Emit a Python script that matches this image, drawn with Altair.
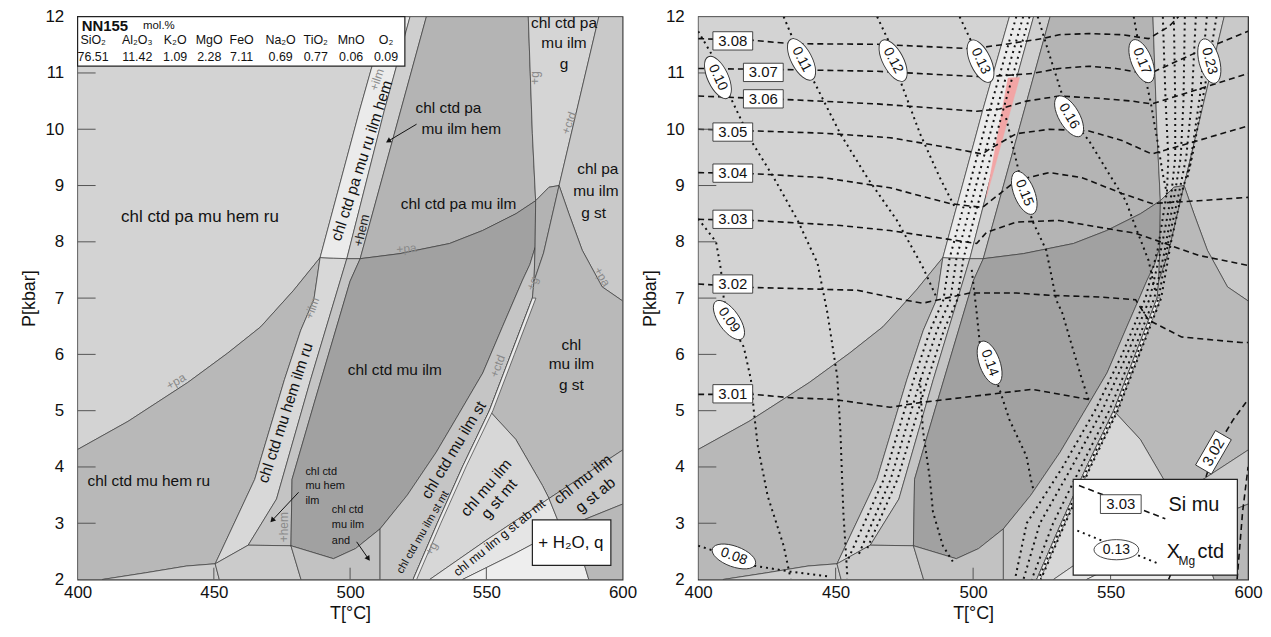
import altair as alt
import pandas as pd

FONT = "Liberation Sans"

T_TICKS = [400, 450, 500, 550, 600]
P_TICKS = [2, 3, 4, 5, 6, 7, 8, 9, 10, 11, 12]

# ---------------- phase boundaries (T °C, P kbar) ----------------
PA_LEFT = [(400, 4.31), (418.5, 4.81), (440.4, 5.5), (455, 6.02), (467.2, 6.49), (479.3, 7.14), (489, 7.72)]
PA_BAND = [(489, 7.72), (494, 7.71), (498.8, 7.70), (503.7, 7.70)]
PA_DARK = [(503.7, 7.70), (518.3, 7.79), (536.5, 7.97), (548.6, 8.2), (560.9, 8.5), (568.1, 8.73)]
PA_G = [(568.1, 8.73), (573, 8.97), (576.7, 9.0)]
PA_RIGHT = [(576.7, 9.0), (580.3, 8.5), (585.2, 7.85), (592.5, 7.2), (600, 6.95)]
BAND_L_LO = [(450.5, 2.28), (465, 3.78), (475.9, 5.55), (481.9, 6.43), (486.7, 6.97), (489, 7.72)]
BAND_L_HI = [(489, 7.72), (503.4, 10.32), (513.2, 12)]
BAND_R_LO = [(462.6, 2.61), (473, 3.43), (485.5, 5.55), (498.8, 7.70)]
BAND_R_HI = [(498.8, 7.70), (512.5, 10.32), (522, 12)]
THIRD_LO = [(482, 2.0), (478.3, 2.6), (478.7, 3.78), (486.8, 5.13), (500, 7.3), (503.7, 7.70)]
THIRD_HI = [(503.7, 7.70), (515, 9.7), (528, 12)]
G_HI = [(565.4, 12), (566.9, 9.92), (568.1, 8.73)]
G_MID = [(568.1, 8.73), (567.9, 7.9), (567.5, 7.3), (566.9, 7.0)]
G_LO = [(566.9, 7.0), (559, 6.0), (551.1, 5.0), (541.4, 4.02), (532, 3.0), (523.1, 2.0)]
CTD_LO = [(576.7, 9.0), (571, 7.8), (567.5, 7.3)]
D_LINE = [(567.9, 7.9), (566, 7.6), (563.3, 7.32), (556, 6.5), (548.7, 5.67), (540, 4.95),
          (531.6, 4.26), (521, 3.5), (511, 2.9), (502, 2.55), (493.9, 2.37)]
ARC_UP = [(551.1, 5.0), (560.8, 4.49), (570.6, 3.67), (573, 3.44)]
ARC_LO = [(573, 3.44), (577.5, 2.9), (585, 2.42), (587.6, 2.0)]
X_LO = [(529.2, 2.0), (550, 2.7), (573, 3.44)]
Y_LO = [(541.2, 2.0), (560, 2.45), (577.5, 2.9)]
BOT_LEFT = [(409, 2.0), (425, 2.12), (440, 2.24), (450.5, 2.28)]


def rev(a):
    return list(a)[::-1]


POLYS = [
    ("R1", "#d3d3d3", [(400, 12)] + rev(BAND_L_HI) + rev(PA_LEFT)[1:]),
    ("R2", "#b8b8b8", PA_LEFT + rev(BAND_L_LO)[1:] + rev(BOT_LEFT)[1:] + [(400, 2)]),
    ("SLIVER", "#cdcdcd", BOT_LEFT + [(452, 2.0)]),
    ("BAND_LO", "#d8d8d8", BAND_L_LO + PA_BAND[1:3] + rev(BAND_R_LO)[1:]),
    ("BAND_UP", "#ebebeb", BAND_L_HI + rev(BAND_R_HI) + [(494, 7.71)]),
    ("THIN_UP", "#cfcfcf", BAND_R_HI + rev(THIRD_HI)),
    ("HEM_LO", "#c4c4c4", BAND_R_LO + rev(THIRD_LO)[:-1]),
    ("S1", "#cbcbcb", [(450.5, 2.28), (462.6, 2.61), (478.3, 2.6), (482, 2.0), (452, 2.0)]),
    ("R5", "#b4b4b4", [(528, 12)] + G_HI + rev(PA_DARK)[1:] + THIRD_HI[1:-1]),
    ("DARK", "#a1a1a1", THIRD_LO[1:] + PA_DARK[1:] + [G_MID[1]] + D_LINE[1:]),
    ("S2", "#c2c2c2", [(478.3, 2.6), (493.9, 2.37), (502, 2.55), (511, 2.9), (511, 2.0), (482, 2.0)]),
    ("ST", "#c5c5c5", D_LINE[:9] + [(511, 2.0)] + rev(G_LO) + [(567.5, 7.3)]),
    ("G_UP", "#d5d5d5", [(565.4, 12), (591.3, 12), (576.7, 9.0), (573, 8.97), (568.1, 8.73), (566.9, 9.92)]),
    ("TRI", "#b3b3b3", PA_G + CTD_LO[1:] + [(567.9, 7.9)]),
    ("PA_G_ST", "#c9c9c9", [(591.3, 12), (600, 12)] + rev(PA_RIGHT)),
    ("MU_G_ST", "#b9b9b9", PA_RIGHT + [(600, 4.3)] + rev(ARC_UP) + rev(G_LO)[4:] + [(567.5, 7.3), (571, 7.8)]),
    ("ST_MT", "#d7d7d7", rev(G_LO)[:4] + ARC_UP[1:] + rev(X_LO)[1:]),
    ("AB_MT", "#e5e5e5", X_LO + [ARC_LO[1]] + rev(Y_LO)[1:]),
    ("BELOW_L", "#eeeeee", Y_LO + ARC_LO[2:]),
    ("AB_R", "#cacaca", [(573, 3.44), (600, 4.3), (600, 3.34), (577.5, 2.9)]),
    ("BELOW_R", "#b8b8b8", [(577.5, 2.9), (600, 3.34), (600, 2.0), (587.6, 2.0), (585, 2.42)]),
    ("MT_BAND", "#ececec", G_LO + [(524.4, 2.0), (533.3, 3.0), (542.7, 4.02), (552.4, 5.0), (560.3, 6.0), (568.2, 7.0)]),
]
PINK = [(512.7, 10.91), (516.9, 10.92), (504.8, 8.79)]

# ---------------- isopleths (right panel) ----------------
SI_LINES = {
    "3.08": [(400, 11.61), (419.9, 11.58), (433.6, 11.52), (465.1, 11.51), (499.8, 11.43), (513.2, 11.52), (525.2, 11.61),
             (531.3, 11.68), (542.1, 11.70), (554.1, 11.68), (563.8, 11.61), (571.1, 11.82), (574.7, 12.0)],
    "3.07": [(400, 11.08), (431.1, 11.06), (465.1, 11.03), (499.8, 10.94), (507.1, 10.94), (521.5, 10.99), (531.3, 11.08),
             (542.1, 11.12), (551.9, 11.08), (563.8, 10.98), (581.9, 11.38), (600, 11.74)],
    "3.06": [(400, 10.59), (431.1, 10.53), (465.1, 10.45), (501.3, 10.32), (509.6, 10.36), (519.4, 10.5), (531.3, 10.59),
             (545.8, 10.55), (557.7, 10.5), (565, 10.45), (581.9, 10.71), (600, 10.99)],
    "3.05": [(400, 10.0), (420.3, 9.97), (445.6, 9.93), (469.8, 9.85), (491.5, 9.67), (503.4, 9.56), (506, 9.65),
             (515.7, 9.92), (527.7, 10.0), (542.1, 9.97), (554.1, 9.8), (565, 9.56), (581.9, 9.8), (600, 10.06)],
    "3.04": [(400, 9.23), (420.3, 9.21), (445.6, 9.14), (469.8, 8.96), (491.5, 8.68), (503.4, 8.61), (515.7, 9.09),
             (527.7, 9.23), (539.6, 9.14), (554.1, 8.86), (565, 8.68), (581.9, 8.73), (600, 8.79)],
    "3.03": [(400, 8.4), (420.3, 8.38), (451.7, 8.29), (469.8, 8.2), (489, 8.06), (501.3, 7.97), (504.9, 8.17),
             (515.7, 8.35), (531.3, 8.38), (545.8, 8.26), (559.1, 8.15), (566.4, 8.03), (581.9, 7.76), (600, 7.58)],
    "3.02": [(400, 7.25), (419.2, 7.19), (457.9, 7.14), (474.5, 6.97), (481.7, 6.91), (498.7, 7.09), (515.7, 7.09),
             (527.7, 7.05), (545.8, 7.02), (559.1, 6.97), (563.8, 6.61), (575.8, 6.31), (597.5, 6.21), (600, 6.21)],
    "3.01": [(400, 5.29), (420.3, 5.29), (433.6, 5.23), (449.2, 5.2), (469.8, 5.06), (481.7, 5.15), (506, 5.29),
             (521.5, 5.38), (538.5, 5.23), (542.1, 5.2)],
    "3.02b": [(571.1, 2.0), (580.1, 3.08), (587.4, 4.26), (594.6, 4.84), (600, 5.2)],
    "3.02c": [(596, 2.0), (598, 3.2), (600, 4.0)],
}
SI_LABELS = [("3.08", 412.6, 11.57, 0), ("3.07", 423.7, 11.01, 0), ("3.06", 423.7, 10.54, 0),
             ("3.05", 412.6, 9.95, 0), ("3.04", 412.6, 9.22, 0), ("3.03", 412.6, 8.40, 0),
             ("3.02", 412.6, 7.25, 0), ("3.01", 412.6, 5.30, 0), ("3.02", 587.4, 4.26, 300)]

XMG_LINES = {
    "0.08": [(400, 2.6), (405.8, 2.51), (413, 2.41), (419.9, 2.25), (433.6, 2.14), (448.1, 2.05)],
    "0.09": [(400, 8.41), (406.5, 8.0), (408.3, 7.5), (409.3, 7.0), (411.2, 6.61), (416.6, 6.13), (419.2, 5.55),
             (420.3, 4.97), (421.7, 4.37), (425.3, 3.48), (431.1, 2.6), (433.6, 2.02)],
    "0.10": [(400, 11.74), (405.4, 11.29), (407.2, 10.92), (411.9, 10.55), (419.2, 9.8), (427.5, 9.14), (436.2, 8.38),
             (443.4, 7.62), (447, 6.74), (450.6, 5.6), (451.7, 4.67), (452.8, 3.2), (454.3, 2.02)],
    "0.11": [(431.1, 12), (437.6, 11.24), (442, 10.86), (451.7, 9.92), (461.5, 9.14), (472.3, 8.38), (481.7, 7.55), (486.8, 7.0)],
    "0.12": [(465.1, 12), (469.8, 11.51), (470.9, 11.22), (474.5, 10.73), (480.7, 9.92), (487.9, 9.14), (493.5, 8.6)],
    "0.13": [(495.1, 12), (502.7, 11.21), (506.5, 10.86)],
    "d1": [(515.7, 12), (505.9, 10.32), (491.5, 7.72), (489.2, 6.97), (484.4, 6.43), (478.4, 5.55), (467.5, 3.78), (454, 2.3)],
    "d2": [(518.2, 12), (508.4, 10.32), (494, 7.72), (491.7, 6.97), (486.9, 6.43), (480.9, 5.55), (470, 3.78), (458, 2.4)],
    "d3": [(520.5, 12), (510.8, 10.32), (496.5, 7.71), (494.2, 6.97), (489.4, 6.43), (483.4, 5.55), (472.5, 3.78), (461, 2.5)],
    "hem": [(480.7, 5.55), (481.7, 4.67), (484.3, 3.78), (485.4, 3.2), (489, 2.6), (492.6, 2.32)],
    "0.14": [(499.5, 7.5), (501.3, 6.74), (502.4, 6.21), (506, 5.85), (509.6, 5.38), (513.2, 4.84), (519.4, 4.19),
             (521.5, 3.66), (522.5, 3.57)],
    "0.15": [(512, 10.2), (515.7, 9.44), (516.8, 9.21), (518.6, 8.87), (521.5, 8.38), (526.6, 7.85), (528.8, 7.32),
             (530.2, 6.97), (532.4, 6.74), (539.6, 5.55), (542, 5.2)],
    "0.16": [(523.5, 12), (527.7, 11.33), (534.9, 10.23), (542.1, 9.8), (549.4, 9.21), (555.5, 8.73), (559.1, 8.26),
             (563.8, 7.67), (566.4, 7.09)],
    "0.17": [(558.4, 12), (561.3, 11.21), (564.5, 10.5), (567, 9.8), (569, 9.2), (570.5, 8.85)],
    "0.23": [(588.5, 12), (585.9, 11.21), (583, 10.4), (580, 9.6), (578, 9.15)],
    "b1": [(569, 12), (570, 10.5), (571, 9.5), (570.5, 8.9), (567.3, 7.9), (562.7, 7.0), (554.2, 6.0), (544.3, 5.0),
           (532.6, 4.0), (519.5, 3.0), (515.2, 2.0)],
    "b2": [(573, 12), (573.5, 10.5), (573.5, 9.5), (572, 8.8), (568.5, 7.9), (564.3, 7.0), (556, 6.0), (546.9, 5.0),
           (535.9, 4.0), (524.3, 3.0), (518.3, 2.0)],
    "b3": [(577, 12), (576.5, 10.5), (575.5, 9.5), (573.5, 8.9), (569.5, 7.8), (565.9, 7.0), (557.9, 6.0), (549.5, 5.0),
           (539.2, 4.0), (529.1, 3.0), (521.3, 2.0)],
    "b4": [(581, 12), (579.5, 10.5), (577.5, 9.5), (575, 8.9), (571, 8.0), (567.5, 7.0), (559.6, 6.0), (551.7, 5.0),
           (541.8, 4.0), (532.6, 3.0), (523.7, 2.0)],
    "b5": [(585, 12), (582.5, 10.6), (579, 9.4), (576, 8.9), (572, 8.0), (568.4, 7.0), (560.5, 6.0), (552.6, 5.0),
           (542.7, 4.0), (533.5, 3.0), (524.6, 2.0)],
}
XMG_LABELS = [("0.10", 407.2, 10.92, 65), ("0.11", 437.6, 11.24, 62), ("0.12", 470.9, 11.22, 62),
              ("0.13", 502.7, 11.21, 65), ("0.17", 561.3, 11.21, 68), ("0.23", 585.9, 11.21, 75),
              ("0.16", 534.9, 10.23, 60), ("0.15", 518.6, 8.87, 68), ("0.14", 506.0, 5.85, 70),
              ("0.09", 411.2, 6.61, 55), ("0.08", 413.0, 2.41, 20)]

# ---------------- left panel annotations ----------------
REGION_LABELS = [
    ("chl ctd pa mu hem ru", 444.9, 8.44, 17, 0, "#111"),
    ("chl ctd mu hem ru", 426.1, 3.75, 15.5, 0, "#111"),
    ("chl ctd pa mu ilm", 539.8, 8.68, 15.5, 0, "#111"),
    ("chl ctd pa", 536.1, 10.38, 15.5, 0, "#111"),
    ("mu ilm hem", 540.8, 10.0, 15.5, 0, "#111"),
    ("chl ctd pa mu ru ilm hem", 504.3, 9.44, 15.5, 288, "#111"),
    ("chl ctd mu hem ilm ru", 476.3, 4.96, 15.5, 288, "#111"),
    ("chl ctd mu ilm", 516.4, 5.73, 15.5, 0, "#111"),
    ("chl ctd mu ilm st", 538.0, 4.30, 15.5, 301, "#111"),
    ("chl ctd mu ilm st mt", 526.8, 2.84, 11, 300, "#111"),
    ("chl mu ilm", 549.9, 3.63, 15.5, 310, "#111"),
    ("g st mt", 554.7, 3.43, 15.5, 310, "#111"),
    ("chl mu ilm g st ab mt", 554.8, 2.74, 12.5, 321, "#111"),
    ("chl mu ilm", 585.4, 3.78, 15.5, 321, "#111"),
    ("g st ab", 590.0, 3.50, 15.5, 321, "#111"),
    ("chl ctd pa", 578.5, 11.88, 15.5, 0, "#111"),
    ("mu ilm", 578.5, 11.53, 15.5, 0, "#111"),
    ("g", 578.5, 11.15, 15.5, 0, "#111"),
    ("chl pa", 590.9, 9.30, 15.5, 0, "#111"),
    ("mu ilm", 590.2, 8.91, 15.5, 0, "#111"),
    ("g st", 589.4, 8.52, 15.5, 0, "#111"),
    ("chl", 581.2, 6.17, 15.5, 0, "#111"),
    ("mu ilm", 581.2, 5.82, 15.5, 0, "#111"),
    ("g st", 581.2, 5.46, 15.5, 0, "#111"),
    ("+ H₂O, q", 581.0, 2.65, 17, 0, "#111"),
    ("+ilm", 509.8, 10.88, 12, 288, "#8a8a8a"),
    ("+hem", 504.3, 8.20, 13, 283, "#222"),
    ("+pa", 520.7, 7.88, 12, 355, "#8a8a8a"),
    ("+pa", 436.1, 5.52, 12, 330, "#8a8a8a"),
    ("+ilm", 486.0, 6.82, 12, 290, "#8a8a8a"),
    ("+g", 567.9, 10.91, 12, 270, "#8a8a8a"),
    ("+ctd", 580.3, 10.11, 12, 290, "#8a8a8a"),
    ("+pa", 592.5, 7.38, 12, 60, "#8a8a8a"),
    ("+g", 566.9, 7.26, 12, 290, "#8a8a8a"),
    ("+g", 529.8, 2.55, 12, 300, "#8a8a8a"),
    ("+hem", 475.7, 2.93, 12, 270, "#8a8a8a"),
    ("+ctd", 554.1, 5.79, 12, 290, "#8a8a8a"),
]
SMALL_LABELS = [("chl ctd", 483.6, 3.91), ("mu hem", 483.6, 3.66), ("ilm", 483.6, 3.40),
                ("chl ctd", 493.3, 3.24), ("mu ilm", 493.3, 2.96), ("and", 493.3, 2.68)]
ARROWS = [[(524.4, 10.09), (514.0, 9.79)], [(481.1, 3.55), (471.4, 3.05)], [(502.4, 2.67), (506.7, 2.37)]]
ARROW_ANGLES = [239, 223, 145]

OXIDES = ["SiO₂", "Al₂O₃", "K₂O", "MgO", "FeO", "Na₂O", "TiO₂", "MnO", "O₂"]
MOL = ["76.51", "11.42", "1.09", "2.28", "7.11", "0.69", "0.77", "0.06", "0.09"]
OX_T = [405.7, 421.9, 435.8, 448.3, 460.2, 474.5, 487.4, 500.4, 513.2]

COMP_BOX = (400, 520.1, 11.12, 12)
WATER_BOX = (566.9, 595.7, 2.25, 3.06)
LEG_BOX = (536.4, 596.1, 2.08, 3.78)

# ---------------- build tables ----------------
poly_rows = []
for name, col, pts in POLYS:
    for i, (t, p) in enumerate(pts):
        poly_rows.append({"id": name, "fill": col, "i": i, "T": t, "P": p})
poly_df = pd.DataFrame(poly_rows)
main_df = poly_df[poly_df.id != "MT_BAND"]
mt_df = poly_df[poly_df.id == "MT_BAND"]
pink_df = pd.DataFrame([{"id": "pink", "i": i, "T": t, "P": p} for i, (t, p) in enumerate(PINK)])


def lines_df(d):
    return pd.DataFrame([{"id": k, "i": i, "T": t, "P": p} for k, pts in d.items() for i, (t, p) in enumerate(pts)])


si_df = lines_df(SI_LINES)
xmg_df = lines_df(XMG_LINES)

ytick_df = pd.DataFrame([{"T": 400, "T2": 406.6, "P": p, "P2": p} for p in P_TICKS[1:-1]])
xtick_df = pd.DataFrame([{"T": t, "T2": t, "P": 2, "P2": 2.21} for t in T_TICKS[1:-1]])

XS = alt.Scale(domain=[400, 600], nice=False, zero=False)
YS = alt.Scale(domain=[2, 12], nice=False, zero=False)
XAX = alt.Axis(values=T_TICKS, title="T[°C]", labelFontSize=17, titleFontSize=18, titleFontWeight="normal",
               labelPadding=5, titlePadding=4, ticks=False, domain=False, grid=False, labelFlush=False,
               labelColor="#111", titleColor="#111", format="d")
YAX = alt.Axis(values=P_TICKS, title="P[kbar]", labelFontSize=17, titleFontSize=18, titleFontWeight="normal",
               labelPadding=14, titlePadding=6, ticks=False, domain=False, grid=False, labelFlush=False,
               labelColor="#111", titleColor="#111", format="d")


def X(f="T"):
    return alt.X(f"{f}:Q", scale=XS, axis=XAX)


def Y(f="P"):
    return alt.Y(f"{f}:Q", scale=YS, axis=YAX)


def base_layers():
    polys = alt.Chart(main_df).mark_line(interpolate="linear-closed", stroke="#3a3a3a", strokeWidth=0.7, clip=True).encode(
        x=X(), y=Y(), order="i:Q", detail="id:N", fill=alt.Fill("fill:N", scale=None))
    mt = alt.Chart(mt_df).mark_line(interpolate="linear-closed", stroke="#3a3a3a", strokeWidth=0.7, clip=True).encode(
        x=X(), y=Y(), order="i:Q", detail="id:N", fill=alt.Fill("fill:N", scale=None))
    return [polys, mt]


def tick_layers():
    yt = alt.Chart(ytick_df).mark_rule(color="#555", strokeWidth=1).encode(x=X(), x2="T2:Q", y=Y(), y2="P2:Q")
    xt = alt.Chart(xtick_df).mark_rule(color="#555", strokeWidth=1).encode(x=X(), x2="T2:Q", y=Y(), y2="P2:Q")
    return [yt, xt]


def rect_layer(box, stroke_w=1.2):
    df = pd.DataFrame([{"T": box[0], "T2": box[1], "P": box[2], "P2": box[3]}])
    return alt.Chart(df).mark_rect(fill="white", stroke="#222", strokeWidth=stroke_w).encode(
        x=X(), x2="T2:Q", y=Y(), y2="P2:Q")


# ---------------- left panel ----------------
lab_df = pd.DataFrame(REGION_LABELS, columns=["text", "T", "P", "size", "angle", "color"])
small_df = pd.DataFrame(SMALL_LABELS, columns=["text", "T", "P"])
arrow_df = pd.DataFrame([{"id": k, "i": i, "T": t, "P": p} for k, a in enumerate(ARROWS) for i, (t, p) in enumerate(a)])
head_df = pd.DataFrame([{"T": a[1][0], "P": a[1][1], "angle": ang} for a, ang in zip(ARROWS, ARROW_ANGLES)])

ox_df = pd.DataFrame({"text": OXIDES, "T": OX_T, "P": [11.58] * len(OXIDES)})
mol_df = pd.DataFrame({"text": MOL, "T": OX_T, "P": [11.29] * len(MOL)})
title_df = pd.DataFrame([{"text": "NN155", "T": 401.5, "P": 11.84}])
molpc_df = pd.DataFrame([{"text": "mol.%", "T": 424.0, "P": 11.84}])

left_layers = base_layers() + tick_layers() + [
    rect_layer(COMP_BOX),
    rect_layer(WATER_BOX),
    alt.Chart(lab_df).mark_text(font=FONT, align="center", baseline="middle").encode(
        x=X(), y=Y(), text="text:N", size=alt.Size("size:Q", scale=None),
        angle=alt.Angle("angle:Q", scale=None), color=alt.Color("color:N", scale=None)),
    alt.Chart(small_df).mark_text(font=FONT, align="left", baseline="middle", fontSize=11, color="#111").encode(
        x=X(), y=Y(), text="text:N"),
    alt.Chart(arrow_df).mark_line(color="#111", strokeWidth=1).encode(x=X(), y=Y(), order="i:Q", detail="id:N"),
    alt.Chart(head_df).mark_point(shape="triangle-up", filled=True, size=35, color="#111", opacity=1).encode(
        x=X(), y=Y(), angle=alt.Angle("angle:Q", scale=None)),
    alt.Chart(title_df).mark_text(font=FONT, align="left", baseline="middle", fontSize=15, fontWeight="bold",
                                  color="#111").encode(x=X(), y=Y(), text="text:N"),
    alt.Chart(molpc_df).mark_text(font=FONT, align="left", baseline="middle", fontSize=11.5, color="#111").encode(
        x=X(), y=Y(), text="text:N"),
    alt.Chart(ox_df).mark_text(font=FONT, align="center", baseline="middle", fontSize=12.5, color="#111").encode(
        x=X(), y=Y(), text="text:N"),
    alt.Chart(mol_df).mark_text(font=FONT, align="center", baseline="middle", fontSize=12.5, color="#111").encode(
        x=X(), y=Y(), text="text:N"),
]
left = alt.layer(*left_layers).properties(width=548, height=566)

# ---------------- right panel ----------------
BOX_PATH = "M -1 -0.46 L 1 -0.46 L 1 0.46 L -1 0.46 Z"
ELL_PATH = "M -1 0 A 1 0.45 0 1 1 1 0 A 1 0.45 0 1 1 -1 0 Z"

si_lab_df = pd.DataFrame(SI_LABELS, columns=["text", "T", "P", "angle"])
xmg_lab_df = pd.DataFrame(XMG_LABELS, columns=["text", "T", "P", "angle"])

leg_dash_df = pd.DataFrame([{"id": "a", "i": 0, "T": 538.5, "P": 3.67}, {"id": "a", "i": 1, "T": 569.9, "P": 3.08}])
leg_dot_df = pd.DataFrame([{"id": "b", "i": 0, "T": 537.9, "P": 2.87}, {"id": "b", "i": 1, "T": 567.5, "P": 2.28}])
leg_box_df = pd.DataFrame([{"text": "3.03", "T": 553.7, "P": 3.34, "angle": 0}])
leg_ell_df = pd.DataFrame([{"text": "0.13", "T": 552.1, "P": 2.53, "angle": 0}])
leg_text_df = pd.DataFrame([{"text": "Si mu", "T": 571.1, "P": 3.33}, {"text": "X", "T": 570.4, "P": 2.49},
                            {"text": "ctd", "T": 581.6, "P": 2.49}])
leg_sub_df = pd.DataFrame([{"text": "Mg", "T": 574.7, "P": 2.33}])

right_layers = base_layers() + [
    alt.Chart(pink_df).mark_line(interpolate="linear-closed", fill="#f2a5a5", stroke="#f2a5a5", strokeWidth=0.5).encode(
        x=X(), y=Y(), order="i:Q", detail="id:N"),
    alt.Chart(si_df).mark_line(color="#111", strokeWidth=1.6, strokeDash=[6, 4], clip=True).encode(
        x=X(), y=Y(), order="i:Q", detail="id:N"),
    alt.Chart(xmg_df).mark_line(color="#111", strokeWidth=2, strokeDash=[2, 4], clip=True).encode(
        x=X(), y=Y(), order="i:Q", detail="id:N"),
] + tick_layers() + [
    alt.Chart(si_lab_df).mark_point(shape=BOX_PATH, size=1600, filled=True, fill="white", stroke="#333",
                                    strokeWidth=0.9, opacity=1).encode(
        x=X(), y=Y(), angle=alt.Angle("angle:Q", scale=None)),
    alt.Chart(si_lab_df).mark_text(font=FONT, fontSize=15, color="#111", baseline="middle").encode(
        x=X(), y=Y(), text="text:N", angle=alt.Angle("angle:Q", scale=None)),
    alt.Chart(xmg_lab_df).mark_point(shape=ELL_PATH, size=2116, filled=True, fill="white", stroke="#333",
                                     strokeWidth=0.9, opacity=1).encode(
        x=X(), y=Y(), angle=alt.Angle("angle:Q", scale=None)),
    alt.Chart(xmg_lab_df).mark_text(font=FONT, fontSize=14, color="#111", baseline="middle").encode(
        x=X(), y=Y(), text="text:N", angle=alt.Angle("angle:Q", scale=None)),
    rect_layer(LEG_BOX),
    alt.Chart(leg_dash_df).mark_line(color="#111", strokeWidth=1.6, strokeDash=[6, 4]).encode(
        x=X(), y=Y(), order="i:Q", detail="id:N"),
    alt.Chart(leg_dot_df).mark_line(color="#111", strokeWidth=2, strokeDash=[2, 4]).encode(
        x=X(), y=Y(), order="i:Q", detail="id:N"),
    alt.Chart(leg_box_df).mark_point(shape=BOX_PATH, size=1680, filled=True, fill="white", stroke="#333",
                                     strokeWidth=0.9, opacity=1).encode(x=X(), y=Y()),
    alt.Chart(leg_box_df).mark_text(font=FONT, fontSize=15, color="#111", baseline="middle").encode(
        x=X(), y=Y(), text="text:N"),
    alt.Chart(leg_ell_df).mark_point(shape=ELL_PATH, size=2025, filled=True, fill="white", stroke="#333",
                                     strokeWidth=0.9, opacity=1).encode(x=X(), y=Y()),
    alt.Chart(leg_ell_df).mark_text(font=FONT, fontSize=14, color="#111", baseline="middle").encode(
        x=X(), y=Y(), text="text:N"),
    alt.Chart(leg_text_df).mark_text(font=FONT, fontSize=20, color="#111", align="left", baseline="middle").encode(
        x=X(), y=Y(), text="text:N"),
    alt.Chart(leg_sub_df).mark_text(font=FONT, fontSize=12, color="#111", align="left", baseline="middle").encode(
        x=X(), y=Y(), text="text:N"),
]
right = alt.layer(*right_layers).properties(width=553, height=566)

chart = alt.hconcat(left, right, spacing=3).properties(
    padding={"left": 12, "top": -3, "right": 0, "bottom": 0}, background="white"
).configure_view(stroke="#333", strokeWidth=1.2).configure_axis(labelFont=FONT, titleFont=FONT)

chart.save("out.html", embed_options={"renderer": "svg", "actions": False})
